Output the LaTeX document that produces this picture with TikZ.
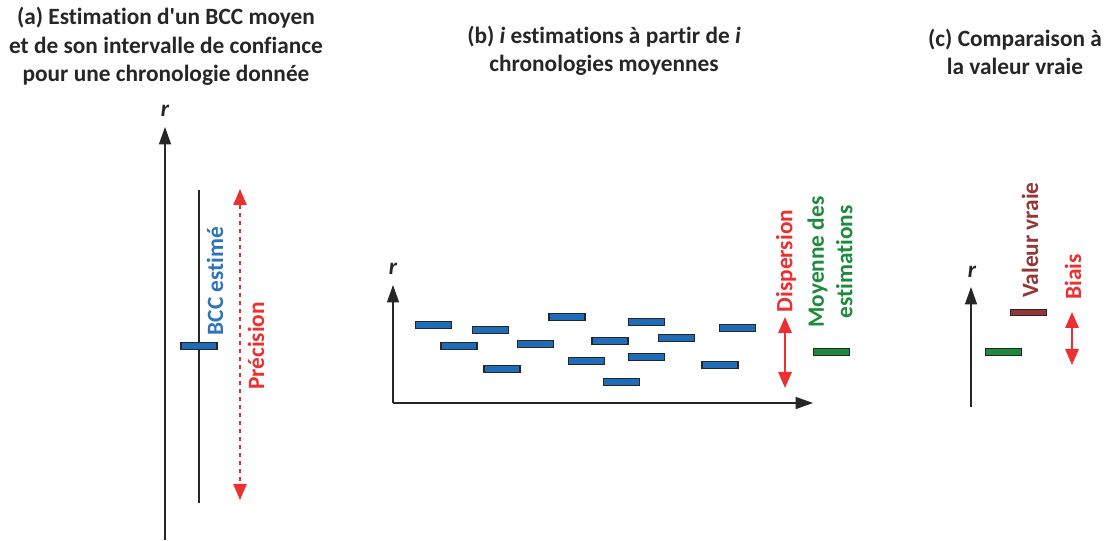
\documentclass[tikz,border=0pt]{standalone}
\usepackage{fontspec}
\setmainfont{Carlito}[Ligatures=NoCommon]
\usepackage{xcolor}
\usepackage{tikz}
\usetikzlibrary{arrows.meta}
\definecolor{bccblue}{HTML}{1F6DB8}
\definecolor{txtblue}{HTML}{2E73BE}
\definecolor{gapred}{HTML}{EE2F2F}
\definecolor{meangreen}{HTML}{1E8A3C}
\definecolor{truebrown}{HTML}{943634}
\definecolor{ink}{HTML}{262626}

\begin{document}
\begin{tikzpicture}[x=.75pt,y=-.75pt,font=\fontsize{17.5}{21.5}\selectfont\bfseries,
    bar/.style={draw=ink,line width=.8pt,minimum width=27pt,minimum height=4.8pt,inner sep=0pt},
    axis/.style={line width=1pt,ink,-{Triangle[length=13pt,width=9pt]}},
    gap/.style={gapred,line width=1.5pt,{Triangle[length=12pt,width=10pt]}-{Triangle[length=12pt,width=10pt]}},
    title/.style={align=center,anchor=base,text=ink}]
      \useasboundingbox (0,0) rectangle (1107,541);
      % (a)
      \node[title] (ta) at (166,82) {(a) Estimation d\textquotesingle un BCC moyen\\et de son intervalle de confiance\\pour une chronologie donnée};
      \coordinate (a0) at (165,540);
      \coordinate (a1) at (165,127);
      \draw[axis] (a0) -- (a1);
      \node[anchor=base,text=ink] (ra) at (165,117) {\itshape r};
      \coordinate (ciup) at (199,190);
      \coordinate (cidn) at (199,503);
      \draw[line width=1pt,ink] (ciup) -- (cidn);
      \node[bar,fill=bccblue] (bcc) at (199,346) {};
      \node[rotate=90,text=txtblue] (lbcc) at (215,281) {BCC estimé};
      \coordinate (pup) at (240,189);
      \coordinate (pdn) at (240,500);
      \draw[gap,line width=1pt,dashed] (pup) -- (pdn);
      \node[rotate=90,text=gapred] (lprec) at (256,346) {Précision};
      % (b)
      \node[title] (tb) at (604,72) {(b) \textit{i} estimations à partir de \textit{i}\\chronologies moyennes};
      \coordinate (b0) at (393,403);
      \coordinate (by) at (393,285);
      \coordinate (bx) at (813,403);
      \draw[axis] (b0) -- (by);
      \draw[axis] (b0) -- (bx);
      \node[anchor=base,text=ink] (rb) at (393,275) {\itshape r};
      \foreach \x/\y [count=\i] in {433.5/325,459/346,490.5/330,502/369,535.5/344,567/317,586.5/361,
                                    610/341,621.5/382,646.5/322,646.5/357,676.5/338,720/365,737.5/328}
        \node[bar,fill=bccblue] (est\i) at (\x,\y) {};
      \coordinate (dup) at (785,317);
      \coordinate (ddn) at (785,388);
      \draw[gap] (dup) -- (ddn);
      \node[rotate=90,text=gapred] (ldisp) at (786,261) {Dispersion};
      \node[bar,fill=meangreen] (mean) at (831.5,352) {};
      \node[rotate=90,align=center,text=meangreen] (lmean) at (830,262) {Moyenne des\\estimations};
      % (c)
      \node[title] (tc) at (1015,75) {(c) Comparaison à\\la valeur vraie};
      \coordinate (c0) at (971,407);
      \coordinate (c1) at (971,287);
      \draw[axis] (c0) -- (c1);
      \node[anchor=base,text=ink] (rc) at (972,278) {\itshape r};
      \node[bar,fill=meangreen] (cmean) at (1003.5,352) {};
      \node[bar,fill=truebrown] (ctrue) at (1028.5,312.5) {};
      \node[rotate=90,text=truebrown] (ltrue) at (1030,240) {Valeur vraie};
      \coordinate (bup) at (1072,312);
      \coordinate (bdn) at (1072,365);
      \draw[gap] (bup) -- (bdn);
      \node[rotate=90,text=gapred] (lbias) at (1073,277) {Biais};
    \end{tikzpicture}
\end{document}
